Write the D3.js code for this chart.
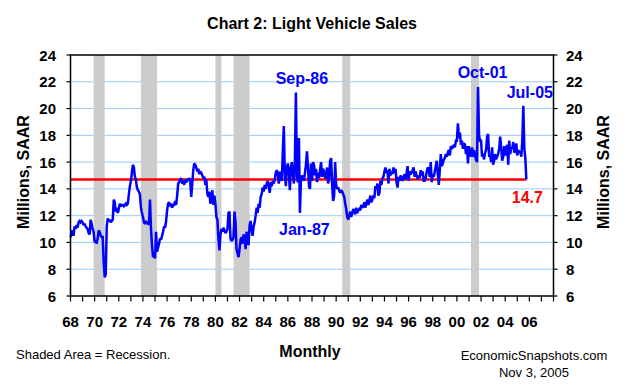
<!DOCTYPE html>
<html><head><meta charset="utf-8">
<script src="https://cdn.jsdelivr.net/npm/d3@7"></script>
<style>
body{margin:0;background:#fff}
svg{display:block}
text{font-family:"Liberation Sans",Arial,Helvetica,sans-serif}
</style>
</head><body>
<svg id="chart" width="625" height="392"></svg>
<script>
// ---------------- DATA ----------------
const startYear = 1968;           // first observation: Jan 1968
// Light vehicle sales, millions SAAR, monthly (one row per year)
const sales = [
/*1968*/ 10.4,10.6,10.9,10.5,11.2,11.0,11.3,11.1,11.5,11.6,11.5,11.6,
/*1969*/ 11.5,11.3,11.4,11.2,11.1,11.0,10.7,10.6,11.7,11.4,11.0,10.8,
/*1970*/ 10.0,10.2,9.9,10.3,10.9,10.8,10.5,10.4,10.4,8.5,7.4,7.6,
/*1971*/ 11.2,11.8,11.6,11.7,11.5,11.6,11.7,13.2,13.0,12.3,12.6,12.2,
/*1972*/ 12.5,12.9,12.7,12.8,12.8,12.7,12.8,12.9,12.8,12.9,13.6,14.2,
/*1973*/ 14.6,15.2,15.8,15.6,14.9,14.7,14.1,13.9,13.8,13.6,12.6,12.2,
/*1974*/ 11.9,11.5,11.4,11.6,11.4,11.5,11.3,13.2,11.0,9.8,8.9,9.1,
/*1975*/ 8.8,10.8,9.3,9.6,9.9,10.3,10.2,10.5,10.8,11.2,11.1,11.6,
/*1976*/ 12.4,12.9,13.0,12.7,12.9,12.6,12.8,12.8,13.1,12.8,13.5,14.4,
/*1977*/ 14.5,14.7,14.8,14.4,14.6,14.3,14.7,14.5,14.6,14.7,14.8,14.6,
/*1978*/ 13.4,14.4,15.4,15.9,15.8,15.6,15.3,15.5,15.1,15.3,15.2,15.0,
/*1979*/ 14.8,14.9,14.3,14.7,13.6,13.4,13.8,12.9,13.2,13.9,12.8,13.5,
/*1980*/ 12.9,11.9,11.7,10.3,9.4,10.6,11.0,10.8,11.1,10.9,10.7,10.8,
/*1981*/ 11.0,12.2,12.3,10.3,10.1,10.2,10.4,12.3,11.5,9.5,9.2,8.9,
/*1982*/ 9.5,10.2,10.4,9.9,10.6,10.3,9.5,10.8,10.2,9.8,11.3,11.6,
/*1983*/ 11.0,10.5,11.2,11.5,12.0,12.6,12.2,12.9,12.6,13.4,13.6,14.1,
/*1984*/ 13.8,14.3,14.0,14.4,14.6,14.2,13.7,14.5,14.2,14.6,14.4,14.7,
/*1985*/ 15.2,15.4,15.1,14.4,15.3,14.9,14.6,16.8,18.7,15.0,14.2,15.6,
/*1986*/ 15.9,15.2,13.9,15.6,16.0,15.1,14.4,16.1,21.2,14.9,14.5,17.8,
/*1987*/ 12.2,14.7,15.0,14.8,14.6,15.2,15.8,16.8,15.6,14.2,14.0,15.9,
/*1988*/ 14.6,16.0,15.8,15.0,15.5,14.5,15.2,14.8,15.4,16.0,14.9,15.5,
/*1989*/ 15.3,14.8,14.9,15.6,14.4,14.8,16.1,16.3,14.3,13.1,13.5,16.0,
/*1990*/ 14.3,14.0,14.1,13.9,13.7,13.9,13.8,13.6,13.4,12.9,12.5,11.9,
/*1991*/ 11.7,12.0,12.3,11.9,12.2,12.5,12.3,12.1,12.6,12.2,12.4,12.5,
/*1992*/ 12.4,12.8,12.6,12.7,13.0,12.6,12.9,13.2,12.8,13.1,13.5,13.0,
/*1993*/ 13.2,13.5,13.3,14.2,14.0,14.4,13.5,13.7,14.6,14.3,14.8,14.9,
/*1994*/ 15.3,15.6,15.2,15.4,14.4,15.5,15.0,15.3,15.1,15.6,15.2,15.5,
/*1995*/ 14.5,14.1,14.9,14.6,15.0,14.8,14.6,14.9,15.1,14.7,15.2,15.7,
/*1996*/ 14.6,15.3,15.1,15.2,15.4,15.6,14.9,15.3,15.0,14.7,15.0,14.8,
/*1997*/ 15.4,15.0,15.3,14.6,14.6,14.8,15.3,15.6,15.5,14.9,16.0,14.5,
/*1998*/ 15.1,14.9,15.3,15.7,16.1,15.1,14.3,15.4,16.6,15.7,15.9,16.2,
/*1999*/ 16.3,16.6,16.4,16.7,16.9,16.5,17.2,17.0,17.1,17.3,17.1,17.6,
/*2000*/ 17.6,18.9,17.8,18.2,17.3,17.6,17.0,17.4,17.3,16.6,17.2,15.9,
/*2001*/ 17.2,16.4,16.6,17.1,16.4,16.9,16.5,16.2,16.0,21.6,18.0,17.6,
/*2002*/ 17.6,16.4,16.6,16.2,16.7,16.9,17.9,18.1,16.4,16.5,16.0,17.1,
/*2003*/ 15.8,16.1,16.6,16.2,16.4,16.6,17.0,17.9,17.1,16.1,16.4,17.2,
/*2004*/ 16.5,16.9,17.3,15.8,17.6,16.6,17.1,17.0,17.5,16.7,16.9,17.4,
/*2005*/ 16.5,16.9,16.7,16.8,16.4,17.6,20.2,17.0,16.3,14.7
];
const recessionPeaks   = ["1969-12","1973-11","1980-01","1981-07","1990-07","2001-03"];
const recessionTroughs = ["1970-11","1975-03","1980-07","1982-11","1991-03","2001-11"];
const yTicks = [6,8,10,12,14,16,18,20,22,24];
const yGrid = [8,10,12,14,16,18,20,22];
const xTickYears = d3.range(1968, 2009, 1);
const xLabelYears = d3.range(1968, 2007, 2);
const xLabels = xLabelYears.map(y => String(y % 100).padStart(2, "0"));
const annotationTexts = ["Sep-86","Jan-87","Oct-01","Jul-05"];
const annotationMonths = ["1986-09","1987-01","2001-10","2005-07"];
const referenceValue = sales[sales.length - 1];   // 14.7

// ---------------- LAYOUT ----------------
const svg = d3.select("#chart");
const L = 70.5, R = 553.5, T = 55, B = 296;
const x = d3.scaleLinear().domain([1968, 2008]).range([L, R]);
const y = d3.scaleLinear().domain([6, 24]).range([B, T]);
const monthToYear = s => { const [yy, mm] = s.split("-").map(Number); return yy + (mm - 1) / 12; };
const series = sales.map((v, i) => ({t: startYear + i / 12, v}));
const FONT = '"Liberation Sans",Arial,sans-serif';

// gridlines
svg.append("g").selectAll("line").data(yGrid).join("line")
  .attr("x1", L).attr("x2", R)
  .attr("y1", d => y(d)).attr("y2", d => y(d))
  .attr("stroke", "#99ccff").attr("stroke-width", 1);

// recession bands
svg.append("g").selectAll("rect").data(recessionPeaks.map((p, i) => [monthToYear(p), monthToYear(recessionTroughs[i])]))
  .join("rect")
  .attr("x", d => x(d[0])).attr("width", d => x(d[1]) - x(d[0]))
  .attr("y", T).attr("height", B - T)
  .attr("fill", "#cccccc");

// reference line (current value)
svg.append("line")
  .attr("x1", x(startYear)).attr("x2", x(series[series.length - 1].t))
  .attr("y1", y(referenceValue)).attr("y2", y(referenceValue))
  .attr("stroke", "#ff0000").attr("stroke-width", 2.5);

// sales line
svg.append("path").datum(series)
  .attr("fill", "none").attr("stroke", "#0000ff").attr("stroke-width", 2.5)
  .attr("stroke-linejoin", "miter").attr("stroke-miterlimit", 2)
  .attr("d", d3.line().x(d => x(d.t)).y(d => y(d.v)));

// axes
const axisG = svg.append("g").attr("stroke", "#000").attr("stroke-width", 1.5).attr("fill", "none");
axisG.append("path").attr("d", `M${L},${T}H${R}V${B}H${L}Z`);
// x ticks
svg.append("g").selectAll("line").data(xTickYears).join("line")
  .attr("x1", d => x(d)).attr("x2", d => x(d))
  .attr("y1", B).attr("y2", B + 5.5)
  .attr("stroke", "#000").attr("stroke-width", 1.2);
// y ticks both sides
svg.append("g").selectAll("line").data(yTicks).join("line")
  .attr("x1", L - 4).attr("x2", L)
  .attr("y1", d => y(d)).attr("y2", d => y(d))
  .attr("stroke", "#000").attr("stroke-width", 1.2);
svg.append("g").selectAll("line").data(yTicks).join("line")
  .attr("x1", R).attr("x2", R + 4)
  .attr("y1", d => y(d)).attr("y2", d => y(d))
  .attr("stroke", "#000").attr("stroke-width", 1.2);

// y tick labels
const tickFont = {size: "15px", weight: "bold"};
svg.append("g").selectAll("text").data(yTicks).join("text")
  .attr("x", 56).attr("y", d => y(d) + 5.5)
  .attr("text-anchor", "end")
  .attr("font-size", tickFont.size).attr("font-weight", tickFont.weight)
  .text(d => d);
svg.append("g").selectAll("text").data(yTicks).join("text")
  .attr("x", 566).attr("y", d => y(d) + 5.5)
  .attr("text-anchor", "start")
  .attr("font-size", tickFont.size).attr("font-weight", tickFont.weight)
  .text(d => d);

// x tick labels
svg.append("g").selectAll("text").data(xLabelYears).join("text")
  .attr("x", d => x(d)).attr("y", 327)
  .attr("text-anchor", "middle")
  .attr("font-size", tickFont.size).attr("font-weight", tickFont.weight)
  .text((d, i) => xLabels[i]);

// titles
svg.append("text").attr("x", 312).attr("y", 29).attr("text-anchor", "middle")
  .attr("font-size", "16px").attr("font-weight", "bold").text("Chart 2: Light Vehicle Sales");
svg.append("text").attr("transform", "translate(29,172) rotate(-90)").attr("text-anchor", "middle")
  .attr("font-size", "16px").attr("font-weight", "bold").text("Millions, SAAR");
svg.append("text").attr("transform", "translate(609,172) rotate(-90)").attr("text-anchor", "middle")
  .attr("font-size", "16px").attr("font-weight", "bold").text("Millions, SAAR");
svg.append("text").attr("x", 310).attr("y", 357).attr("text-anchor", "middle")
  .attr("font-size", "16px").attr("font-weight", "bold").text("Monthly");
svg.append("text").attr("x", 16).attr("y", 359).attr("text-anchor", "start")
  .attr("font-size", "13px").text("Shaded Area = Recession.");
svg.append("text").attr("x", 534).attr("y", 360).attr("text-anchor", "middle")
  .attr("font-size", "13px").text("EconomicSnapshots.com");
svg.append("text").attr("x", 534).attr("y", 377).attr("text-anchor", "middle")
  .attr("font-size", "13px").text("Nov 3, 2005");

// annotations (offset from their data points)
const annOffsets = [[6, -8.5], [4.5, 22], [4.5, -9], [6.5, -8]];
annotationTexts.forEach((txt, i) => {
  const t = monthToYear(annotationMonths[i]);
  const idx = Math.round((t - startYear) * 12);
  const px = x(t) + annOffsets[i][0], py = y(sales[idx]) + annOffsets[i][1];
  svg.append("text").attr("x", px).attr("y", py).attr("text-anchor", "middle")
    .attr("font-size", "16px").attr("font-weight", "bold").attr("fill", "#0000ff").text(txt);
});
svg.append("text")
  .attr("x", x(series[series.length - 1].t) + 1).attr("y", y(referenceValue) + 23.5)
  .attr("text-anchor", "middle").attr("font-size", "16px").attr("font-weight", "bold")
  .attr("fill", "#ff0000").text(referenceValue.toFixed(1));
</script>
</body></html>
